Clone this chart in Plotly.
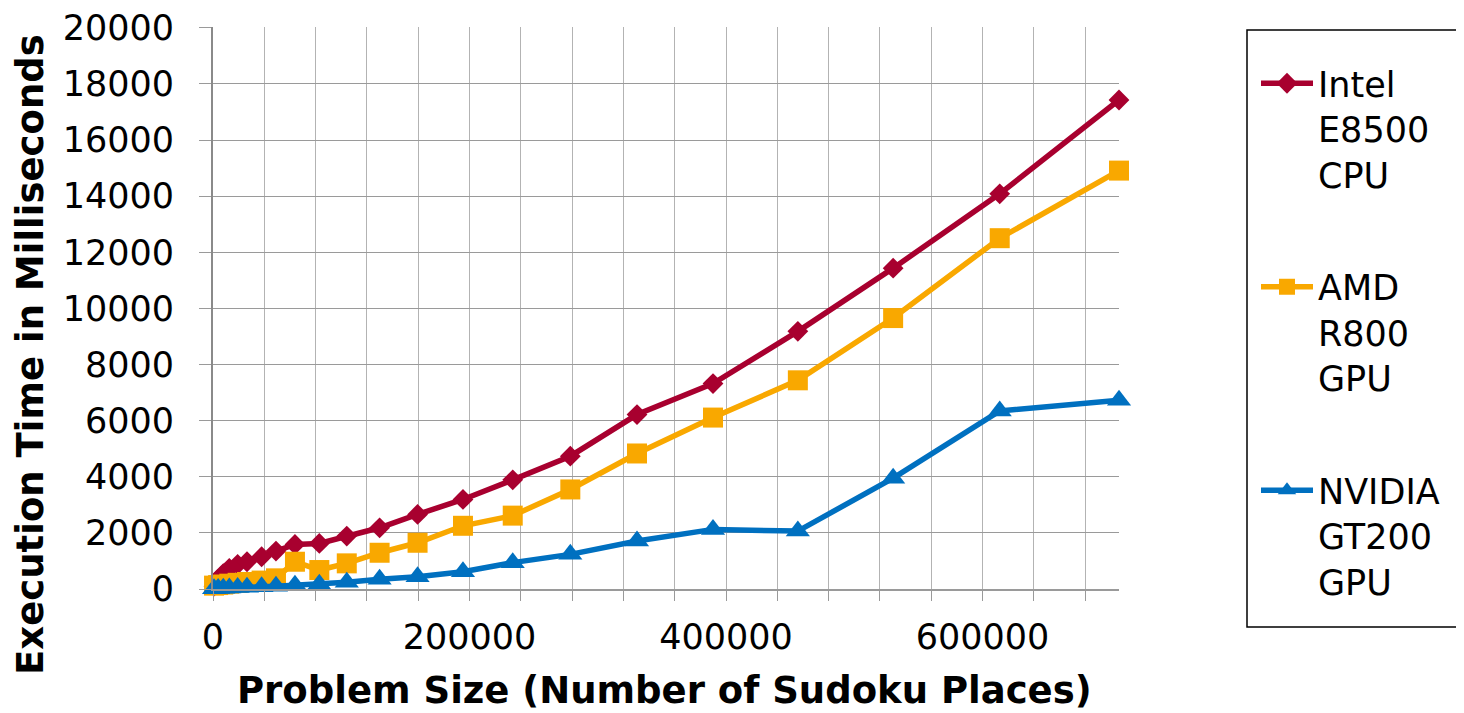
import plotly.graph_objects as go

# Problem size (number of Sudoku places)
problem_size = [800, 4000, 8000, 12700, 19200, 26500, 37900, 49100, 63900, 82900,
                104300, 129900, 159500, 194900, 233700, 278600, 330600, 389850,
                456000, 530300, 613400, 706400]

intel_ms = [100, 350, 550, 736, 879, 972, 1150, 1352, 1590, 1625,
            1886, 2182, 2658, 3192, 3890, 4733, 6217, 7320,
            9182, 11435, 14083, 17428]

amd_ms = [120, 140, 160, 190, 220, 250, 300, 380, 972, 676,
          914, 1292, 1648, 2253, 2615, 3548, 4830, 6110,
          7438, 9656, 12503, 14912]

nvidia_ms = [10, 20, 30, 40, 50, 60, 80, 100, 130, 170,
             240, 345, 438, 616, 940, 1235, 1708, 2124,
             2064, 3950, 6346, 6727]

series_names = ["Intel<br>E8500<br>CPU", "AMD<br>R800<br>GPU", "NVIDIA<br>GT200<br>GPU"]
series_colors = ["#A8002F", "#F9A800", "#0070C0"]
series_symbols = ["diamond", "square", "triangle-up"]
series_sizes = [16, 20, 21]

x_tickvals = list(range(0, 700000, 40000))
x_ticktext = [str(v) if v % 200000 == 0 else "" for v in x_tickvals]
y_tickvals = list(range(0, 20001, 2000))
y_ticktext = [str(v) for v in y_tickvals]

# page body has an 8px margin; work in screen pixels and compensate
OFF = 8
W, H = 1456, 705
L = 213 - OFF
T = 27 - OFF
R = W - (1119 - OFF)
B = H - (589 - OFF)

fig = go.Figure()
for i, ys in enumerate([intel_ms, amd_ms, nvidia_ms]):
    fig.add_trace(go.Scatter(
        x=problem_size, y=ys, mode="lines+markers", name=series_names[i],
        legendgroup=str(i),
        line=dict(color=series_colors[i], width=5.5),
        marker=dict(symbol=series_symbols[i], size=series_sizes[i], color=series_colors[i]),
        cliponaxis=False,
    ))

pw = W - L - R
ph = H - T - B

def px_x(p):
    return (p - OFF - L) / pw

def px_y(p):
    return (H - B - (p - OFF)) / ph

fig.update_layout(
    width=W, height=H,
    margin=dict(l=L, r=R, t=T, b=B, autoexpand=False),
    paper_bgcolor="white", plot_bgcolor="white",
    font=dict(family="DejaVu Sans", size=35, color="black"),
    showlegend=True,
    legend=dict(
        x=px_x(1256), y=px_y(54), xanchor="left", yanchor="top",
        bgcolor="rgba(0,0,0,0)", borderwidth=0,
        font=dict(family="DejaVu Sans", size=35, color="black"),
        traceorder="grouped", tracegroupgap=64, valign="top",
        itemwidth=52,
    ),
    xaxis=dict(
        range=[0, 706400], tickmode="array", tickvals=x_tickvals, ticktext=x_ticktext,
        showgrid=True, gridcolor="#b3b3b3", gridwidth=1.3,
        ticks="outside", ticklen=10, tickcolor="#9a9a9a", tickwidth=1.3,
        showline=True, linecolor="#9a9a9a", linewidth=1.5,
        zeroline=False, ticklabelstandoff=6,
    ),
    yaxis=dict(
        range=[0, 20030], tickmode="array", tickvals=y_tickvals, ticktext=y_ticktext,
        showgrid=True, gridcolor="#9a9a9a", gridwidth=1.3,
        ticks="outside", ticklen=12, tickcolor="#9a9a9a", tickwidth=1.3,
        showline=True, linecolor="#8a8a8a", linewidth=2,
        zeroline=False, ticklabelstandoff=18,
    ),
    shapes=[dict(type="rect", xref="paper", yref="paper",
                 x0=px_x(1247), x1=px_x(1475), y0=px_y(627), y1=px_y(30),
                 line=dict(color="black", width=1.5), fillcolor="rgba(0,0,0,0)")],
    annotations=[
        dict(text="<b>Execution Time in Milliseconds</b>", xref="paper", yref="paper",
             x=px_x(30), y=px_y(355), textangle=-90, showarrow=False,
             xanchor="center", yanchor="middle",
             font=dict(family="DejaVu Sans", size=37, color="black")),
        dict(text="<b>Problem Size (Number of Sudoku Places)</b>", xref="paper", yref="paper",
             x=px_x(664), y=px_y(690), showarrow=False,
             xanchor="center", yanchor="middle",
             font=dict(family="DejaVu Sans", size=37, color="black")),
    ],
)

fig.write_html("out.html")
